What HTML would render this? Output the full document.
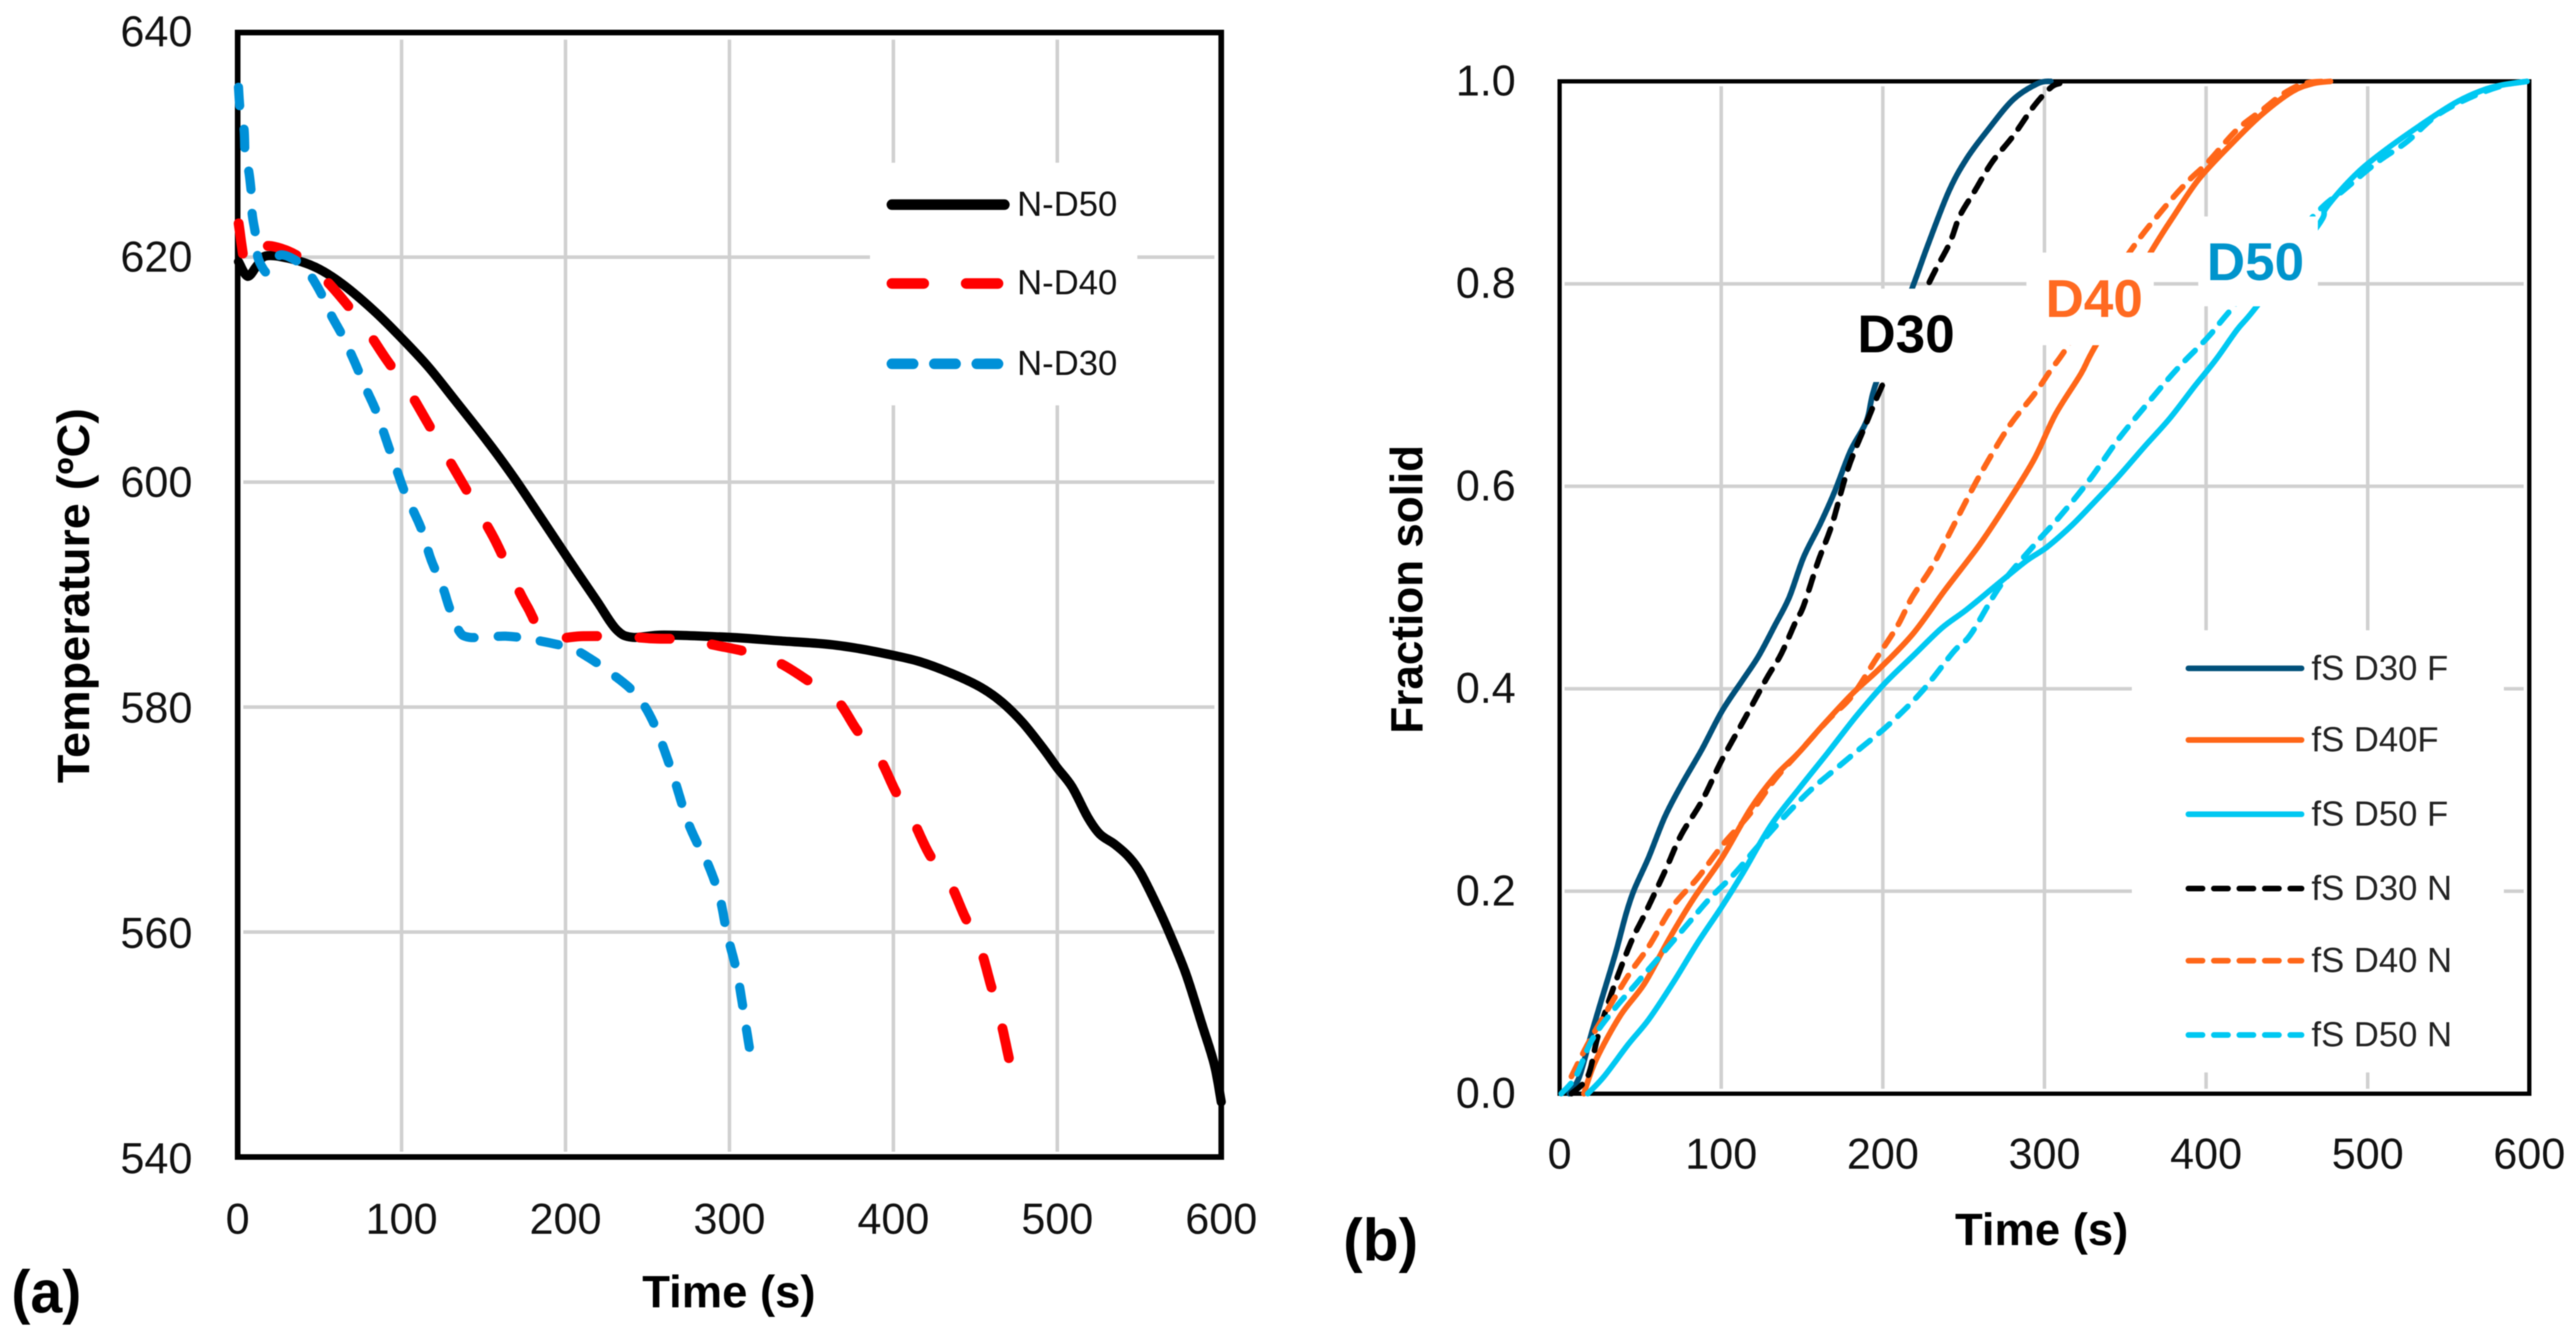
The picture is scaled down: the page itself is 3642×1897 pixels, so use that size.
<!DOCTYPE html>
<html lang="en">
<head>
<meta charset="utf-8">
<title>Cooling curves and fraction solid</title>
<style>
html,body{margin:0;padding:0;background:#fff;}
#figure{display:block;width:3642px;height:1897px;filter:blur(0.9px);font-family:"Liberation Sans",sans-serif;}
.tick{font-size:61px;fill:#111;}
.axis-title{font-size:64px;font-weight:bold;fill:#000;}
.panel{font-size:84px;font-weight:bold;fill:#000;}
.leg-a{font-size:49px;fill:#111;}
.leg-b{font-size:49px;fill:#222;}
.callout{font-size:75px;font-weight:bold;}
</style>
</head>
<body>
<svg id="figure" xmlns="http://www.w3.org/2000/svg" width="3642" height="1897" viewBox="0 0 3642 1897">
  <rect x="0" y="0" width="3642" height="1897" fill="#fff"/>

  <g id="chart-a">
    <g id="a-grid"></g>
    <rect x="336" y="46" width="1390.6" height="1589.5" fill="none" stroke="#000" stroke-width="8"/>
    <g id="a-series"></g>
    <g id="a-ticks"></g>
    <rect x="1230" y="230" width="378" height="343" fill="#fff"/>
    <g>
      <g>
        <line x1="1261" y1="289.3" x2="1420" y2="289.3" stroke="#000" stroke-width="15" stroke-linecap="round"/>
        <text class="leg-a" x="1438" y="305">N-D50</text>
      </g>
      <g>
        <line x1="1261" y1="400.7" x2="1412" y2="400.7" stroke="#f00" stroke-width="15" stroke-linecap="round" stroke-dasharray="45 60"/>
        <text class="leg-a" x="1438" y="416">N-D40</text>
      </g>
      <g>
        <line x1="1261" y1="514.3" x2="1412" y2="514.3" stroke="#0090d8" stroke-width="15" stroke-linecap="round" stroke-dasharray="30 30"/>
        <text class="leg-a" x="1438" y="530">N-D30</text>
      </g>
    </g>
    <text class="axis-title" transform="translate(126 1107) rotate(-90)" textLength="530" lengthAdjust="spacingAndGlyphs">Temperature (ºC)</text>
    <text class="axis-title" x="908" y="1848" textLength="245" lengthAdjust="spacingAndGlyphs">Time (s)</text>
    <text class="panel" x="16" y="1855" textLength="99" lengthAdjust="spacingAndGlyphs">(a)</text>
  </g>

  <g id="chart-b">
    <g id="b-grid"></g>
    <rect x="2205" y="115" width="1371" height="1431" fill="none" stroke="#000" stroke-width="6"/>
    <g id="b-series"></g>
    <g id="b-ticks"></g>
    <rect x="2610" y="408" width="180" height="132" fill="#fff"/>
    <rect x="2865" y="357" width="180" height="131" fill="#fff"/>
    <rect x="3108" y="306" width="169" height="127" fill="#fff"/>
    <text class="callout" fill="#000" x="2626" y="498">D30</text>
    <text class="callout" fill="#ff6a21" x="2892" y="448">D40</text>
    <text class="callout" fill="#0094cc" x="3120" y="396">D50</text>
    <rect x="3014" y="891" width="526" height="625" fill="#fff"/>
    <g>
      <g>
        <line x1="3094" y1="944.7" x2="3254" y2="944.7" stroke="#00507a" stroke-width="8" stroke-linecap="round"/>
        <text class="leg-b" x="3268" y="961">fS D30 F</text>
      </g>
      <g>
        <line x1="3094" y1="1046" x2="3254" y2="1046" stroke="#ff6618" stroke-width="8" stroke-linecap="round"/>
        <text class="leg-b" x="3268" y="1062">fS D40F</text>
      </g>
      <g>
        <line x1="3094" y1="1151" x2="3254" y2="1151" stroke="#00c8f2" stroke-width="8" stroke-linecap="round"/>
        <text class="leg-b" x="3268" y="1167">fS D50 F</text>
      </g>
      <g>
        <line x1="3094" y1="1256" x2="3254" y2="1256" stroke="#000" stroke-width="8" stroke-linecap="round" stroke-dasharray="20 16"/>
        <text class="leg-b" x="3268" y="1272">fS D30 N</text>
      </g>
      <g>
        <line x1="3094" y1="1358" x2="3254" y2="1358" stroke="#ff6618" stroke-width="8" stroke-linecap="round" stroke-dasharray="20 16"/>
        <text class="leg-b" x="3268" y="1374">fS D40 N</text>
      </g>
      <g>
        <line x1="3094" y1="1463" x2="3254" y2="1463" stroke="#00c8f2" stroke-width="8" stroke-linecap="round" stroke-dasharray="20 16"/>
        <text class="leg-b" x="3268" y="1479">fS D50 N</text>
      </g>
    </g>
    <text class="axis-title" transform="translate(2011 1037) rotate(-90)" textLength="408" lengthAdjust="spacingAndGlyphs">Fraction solid</text>
    <text class="axis-title" x="2764" y="1760" textLength="245" lengthAdjust="spacingAndGlyphs">Time (s)</text>
    <text class="panel" x="1899" y="1782" textLength="106" lengthAdjust="spacingAndGlyphs">(b)</text>
  </g>
</svg>

<script>
// ---- Panel (a) data: temperature (degC) against time (s) ----
const aTimeTicks = [0, 100, 200, 300, 400, 500, 600];
const aTempTicks = [540, 560, 580, 600, 620, 640];

const timeND50 = [0.5,6,11.6,17,31,47.5,64,83.4,100,116.6,133,152.5,169,185.6,202,218.8,231,241,260,300,329.6,359,379,400,417,437,454,466.5,479,491,500,509,518.6,526,535,543.5,551,561,568.4,578.4,588,595.8,600];
const tempND50 = [619.6,618.3,619.2,620.1,619.9,619.1,617.6,615.2,612.8,610.2,607.2,603.6,600.3,596.7,593.1,589.5,586.9,586.2,586.4,586.2,585.9,585.6,585.2,584.6,584,582.9,581.7,580.4,578.6,576.4,574.6,572.9,570.2,568.7,567.8,566.7,565.2,562.3,559.9,556.3,551.9,548.2,544.9];

const timeND40 = [0.6,3.9,6,12,19,35.5,52,65.5,79.3,90.3,104,113.8,126,136,148.3,157.5,167.7,176.8,188.4,210.5,232.6,253,272,294.8,313.4,330.8,349.5,365.7,378,391,401.7,411.7,422,434,443.5,452.7,459.4,465,470.6];
const tempND40 = [623,619.7,619.4,620.4,621,620.2,618.2,616,613.4,611,608.2,605.8,602.7,600.2,597.1,594.7,591.5,588.9,586.3,586.3,586.3,586.1,586,585.4,584.8,583.9,582.2,580.6,577.9,575.6,572.4,570,566.9,564.5,561.4,558.7,555.3,552.4,548.7];

const timeND30 = [0.5,1.7,3.9,4.6,6.8,8.6,8.9,11.5,12.5,17.6,20.3,26.7,39.7,45.7,52.6,57.2,64,71,78,84.8,91.7,97,101.4,107,112.4,118,125,129,134.5,141.4,163.5,180,202,213,227,242.5,253.7,265,273.6,280,285,293.5,298.5,304.7,309.2,313.4];
const tempND30 = [635.1,632.8,631.4,628.9,627.6,625.3,623.8,621.5,619.9,618.6,619.2,620.2,619.3,618.1,616.3,614.8,613,610.8,608.4,606.2,603.3,601.1,599.3,597.5,595.7,593.1,590.7,588.9,586.9,586.2,586.3,586,585.3,584.5,583.1,581.2,578.6,574.2,570.2,568,566.7,563.4,559.9,556.3,552.4,548.6];

// ---- Panel (b) data: fraction solid against time (s) ----
const bTimeTicks = [0, 100, 200, 300, 400, 500, 600];
const bFracTicks = ["0.0", "0.2", "0.4", "0.6", "0.8", "1.0"];

const timeD30F = [6,12.3,20,27.5,35,41,46,55,65,75,88,100.5,113,123,133,142,151,161,170,180,190,196,218,228,241,252,265,280.6,296,304];
const fracD30F = [0,0.017,0.061,0.101,0.141,0.177,0.201,0.233,0.273,0.304,0.34,0.378,0.408,0.432,0.462,0.49,0.53,0.562,0.594,0.635,0.665,0.703,0.795,0.839,0.892,0.924,0.952,0.982,0.998,1];

const timeD40F = [15,22.4,37.5,52.6,67.8,83,100.5,118,133,148,163.5,181,198.7,219,238.7,259.7,278,293.7,306.8,322.5,331.7,365.7,380,395.8,416.8,435,453.4,466.5,477];
const fracD40F = [0,0.033,0.077,0.109,0.153,0.193,0.233,0.281,0.313,0.337,0.365,0.395,0.421,0.455,0.498,0.542,0.586,0.627,0.671,0.711,0.739,0.831,0.867,0.904,0.94,0.968,0.99,0.998,1];

const timeD50F = [17.4,27.5,42.6,55,70,85.4,100.5,113,130.7,148,166,183.6,201,219,236.5,251.7,270,288.5,301.6,317.3,333,346,361.8,377.5,393,406,419.4,431,469,474.3,490,505.8,532,555.5,576.4,598.6];
const fracD50F = [0,0.017,0.049,0.073,0.109,0.149,0.185,0.217,0.265,0.301,0.337,0.373,0.405,0.433,0.46,0.478,0.502,0.526,0.54,0.562,0.588,0.61,0.639,0.667,0.699,0.725,0.755,0.777,0.857,0.875,0.904,0.926,0.956,0.98,0.994,1];

const timeD30N = [7.3,17.4,23.7,32.5,44,52.6,65,75,88,100.5,114.4,128,137,146,151,160,168.5,178.6,191,200,228,241,247.6,257,267.5,280.6,293.7,304,309.4];
const fracD30N = [0,0.017,0.057,0.101,0.149,0.177,0.219,0.255,0.289,0.33,0.37,0.41,0.434,0.466,0.482,0.526,0.562,0.618,0.667,0.701,0.799,0.839,0.867,0.892,0.92,0.946,0.976,0.994,0.998];

const timeD40N = [7.3,17.4,27.5,42.6,55,70,85.4,100.5,118,133,148,166,181,196,209,218,231,244,259.7,278,293.7,304,314.7,352.6,372,388,401,419,435,448,461,474];
const fracD40N = [0.017,0.049,0.077,0.117,0.145,0.185,0.213,0.245,0.277,0.31,0.337,0.369,0.393,0.43,0.462,0.49,0.522,0.562,0.61,0.659,0.691,0.715,0.739,0.831,0.871,0.9,0.92,0.952,0.972,0.988,0.998,1];

const timeD50N = [1,10,20,32.5,47.6,65,80,93,108,123,141,156,171,186,204,224,244,254.5,272.8,293.7,309.4,327.7,346,364.4,382.7,401,416.8,466.5,484.8,505.8,524,542.4,563.4,584,598.6];
const fracD50N = [0,0.017,0.053,0.081,0.109,0.141,0.169,0.193,0.217,0.245,0.277,0.301,0.321,0.341,0.365,0.397,0.437,0.454,0.502,0.542,0.57,0.606,0.647,0.683,0.717,0.747,0.777,0.867,0.892,0.92,0.94,0.966,0.984,0.996,1];

// ---- Axis functions ----
function ax(t) { return 336 + t * 2.3177; }
function ay(v) { return 45.5 + (640 - v) * 15.9; }
function bx(t) { return 2205 + t * 2.285; }
function by(f) { return 1546 - f * 1431; }

const SVG_NS = 'http://www.w3.org/2000/svg';

// Smooth curve through the read points (Catmull-Rom converted to cubic Beziers).
function curvePath(xs, ys, xf, yf) {
  const px = xs.map(xf);
  const py = ys.map(yf);
  const n = px.length;
  let d = 'M' + px[0].toFixed(1) + ' ' + py[0].toFixed(1);
  for (let i = 0; i < n - 1; i++) {
    const a = Math.max(i - 1, 0);
    const b = Math.min(i + 2, n - 1);
    const c1x = px[i] + (px[i + 1] - px[a]) / 6;
    const c1y = py[i] + (py[i + 1] - py[a]) / 6;
    const c2x = px[i + 1] - (px[b] - px[i]) / 6;
    const c2y = py[i + 1] - (py[b] - py[i]) / 6;
    d += 'C' + c1x.toFixed(1) + ' ' + c1y.toFixed(1) + ' ' + c2x.toFixed(1) + ' ' + c2y.toFixed(1) + ' ' + px[i + 1].toFixed(1) + ' ' + py[i + 1].toFixed(1);
  }
  return d;
}

function addSeries(parent, name, xs, ys, xf, yf, color, width, dash) {
  const el = document.createElementNS(SVG_NS, 'path');
  
  
  el.setAttribute('d', curvePath(xs, ys, xf, yf));
  el.setAttribute('fill', 'none');
  el.setAttribute('stroke', color);
  el.setAttribute('stroke-width', width);
  el.setAttribute('stroke-linecap', 'round');
  el.setAttribute('stroke-linejoin', 'round');
  if (dash) el.setAttribute('stroke-dasharray', dash);
  parent.appendChild(el);
}

function addGrid(parent, name, x1, y1, x2, y2) {
  const el = document.createElementNS(SVG_NS, 'line');
  
  
  el.setAttribute('x1', x1);
  el.setAttribute('y1', y1);
  el.setAttribute('x2', x2);
  el.setAttribute('y2', y2);
  el.setAttribute('stroke', '#d0d0d0');
  el.setAttribute('stroke-width', '5');
  parent.appendChild(el);
}

function addTick(parent, name, x, y, anchor, label) {
  const el = document.createElementNS(SVG_NS, 'text');
  
  
  el.setAttribute('class', 'tick');
  el.setAttribute('x', x);
  el.setAttribute('y', y);
  el.setAttribute('text-anchor', anchor);
  el.textContent = label;
  parent.appendChild(el);
}

// ---- Panel (a) ----
const aGrid = document.getElementById('a-grid');
const aTicks = document.getElementById('a-ticks');
const aSeries = document.getElementById('a-series');

aTimeTicks.forEach(function (t) {
  if (t > 0 && t < 600) addGrid(aGrid, 'temperature-vertical-gridline', ax(t), 56, ax(t), 1628);
  addTick(aTicks, 'temperature-x-tick-label', ax(t), 1744, 'middle', String(t));
});
aTempTicks.forEach(function (v) {
  if (v > 540 && v < 640) addGrid(aGrid, 'temperature-horizontal-gridline', 344, ay(v), 1717, ay(v));
  addTick(aTicks, 'temperature-y-tick-label', 272, ay(v) + 20 + (640 - v) * 0.03, 'end', String(v));
});

addSeries(aSeries, 'series-n-d50', timeND50, tempND50, ax, ay, '#000', 13, null);
addSeries(aSeries, 'series-n-d40', timeND40, tempND40, ax, ay, '#f00', 14, '43 60');
addSeries(aSeries, 'series-n-d30', timeND30, tempND30, ax, ay, '#0090d8', 13, '26 34');

// ---- Panel (b) ----
const bGrid = document.getElementById('b-grid');
const bTicks = document.getElementById('b-ticks');
const bSeries = document.getElementById('b-series');

bTimeTicks.forEach(function (t) {
  if (t > 0 && t < 600) addGrid(bGrid, 'fraction-vertical-gridline', bx(t), 122, bx(t), 1539);
  addTick(bTicks, 'fraction-x-tick-label', bx(t), 1652, 'middle', String(t));
});
bFracTicks.forEach(function (label) {
  const f = Number(label);
  if (f > 0 && f < 1) addGrid(bGrid, 'fraction-horizontal-gridline', 2212, by(f), 3568, by(f));
  addTick(bTicks, 'fraction-y-tick-label', 2143, by(f) + 20, 'end', label);
});

addSeries(bSeries, 'series-fs-d30-f', timeD30F, fracD30F, bx, by, '#00507a', 8, null);
addSeries(bSeries, 'series-fs-d40-f', timeD40F, fracD40F, bx, by, '#ff6618', 8, null);
addSeries(bSeries, 'series-fs-d50-f', timeD50F, fracD50F, bx, by, '#00c8f2', 8, null);
addSeries(bSeries, 'series-fs-d30-n', timeD30N, fracD30N, bx, by, '#000', 8, '20 16');
addSeries(bSeries, 'series-fs-d40-n', timeD40N, fracD40N, bx, by, '#ff6618', 8, '20 16');
addSeries(bSeries, 'series-fs-d50-n', timeD50N, fracD50N, bx, by, '#00c8f2', 8, '20 16');
</script>
</body>
</html>
